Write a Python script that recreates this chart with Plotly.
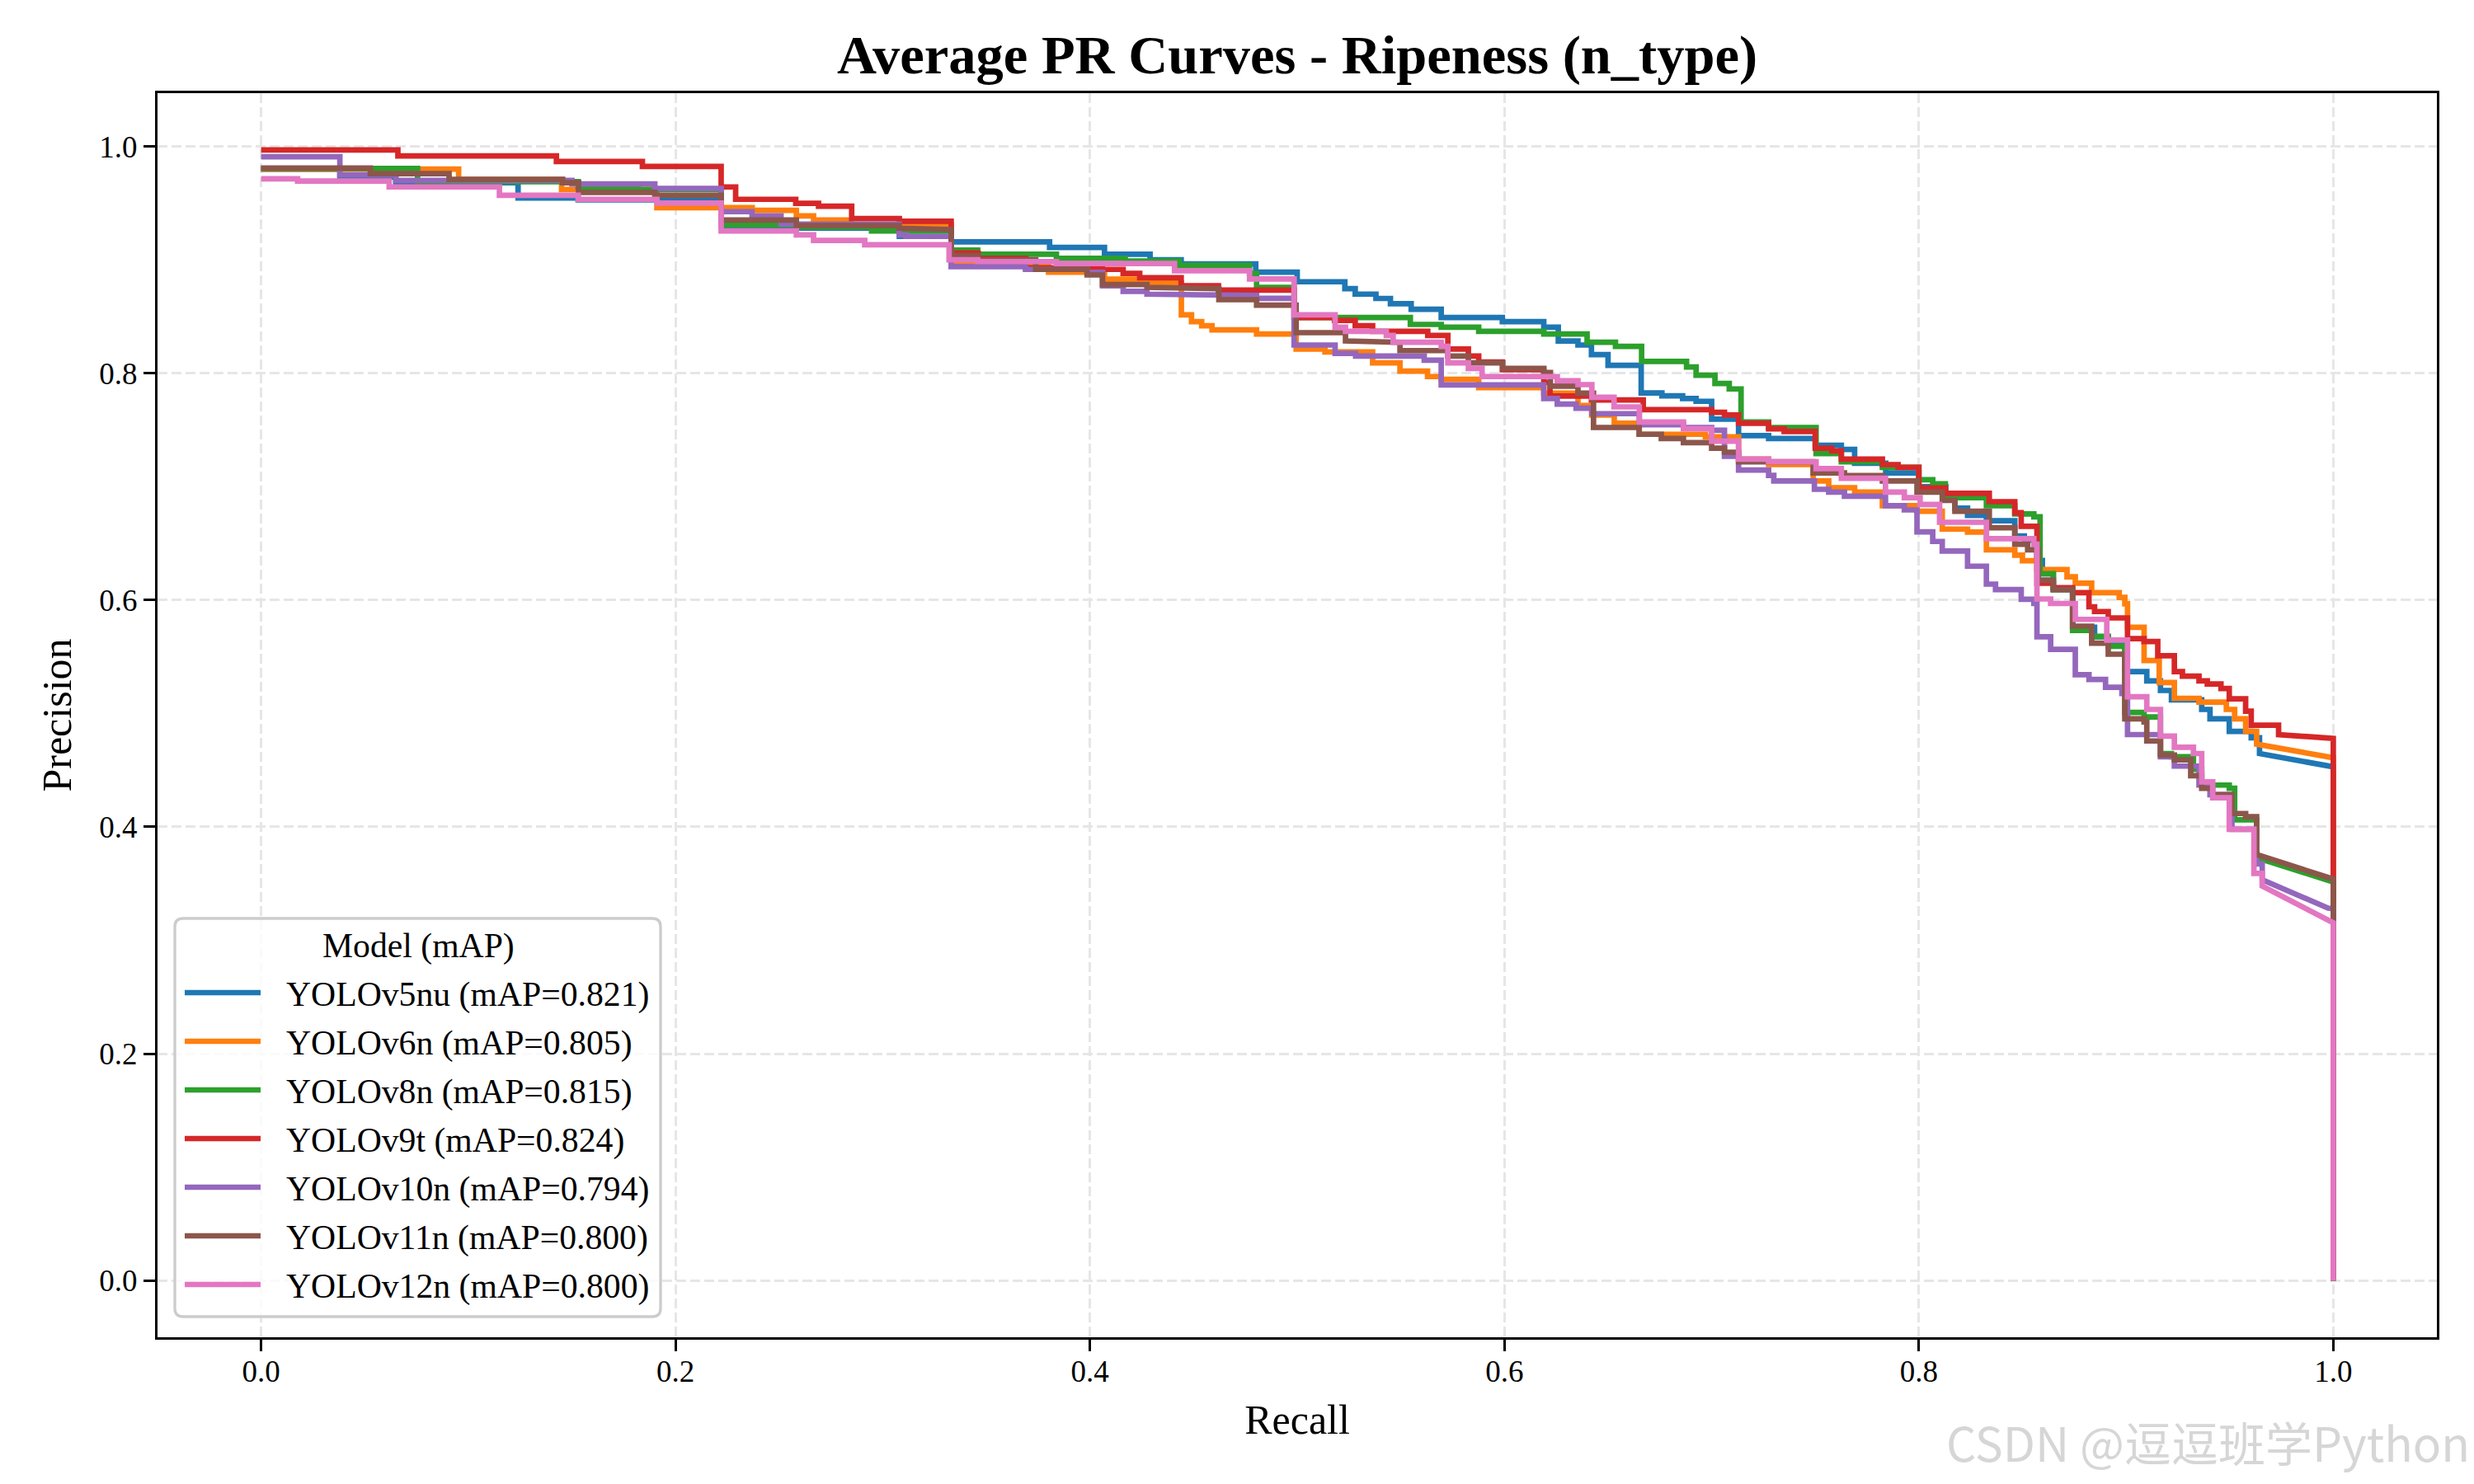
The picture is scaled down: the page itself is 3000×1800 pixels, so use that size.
import plotly.graph_objects as go

# ---------------- data ----------------
models = ["YOLOv5nu", "YOLOv6n", "YOLOv8n", "YOLOv9t", "YOLOv10n", "YOLOv11n", "YOLOv12n"]
map_values = [0.821, 0.805, 0.815, 0.824, 0.794, 0.800, 0.800]
colors = ["#1f77b4", "#ff7f0e", "#2ca02c", "#d62728", "#9467bd", "#8c564b", "#e377c2"]

# step breakpoints (recall) and precision level held on each step
v5nu_recall = [0, 0.038, 0.065, 0.124, 0.153, 0.222, 0.258, 0.308, 0.333, 0.3805, 0.407, 0.429, 0.444, 0.48, 0.50,
               0.523, 0.528, 0.538, 0.545, 0.555, 0.5695, 0.599, 0.619, 0.626, 0.6355, 0.642, 0.650, 0.666, 0.676,
               0.686, 0.6925, 0.70, 0.713, 0.7275, 0.75, 0.7626, 0.769, 0.784, 0.80, 0.813, 0.8174, 0.8235, 0.8326,
               0.8463, 0.8509, 0.8555, 0.857, 0.8596, 0.8649, 0.8742, 0.8848, 0.8914, 0.8994, 0.91, 0.9166, 0.9219,
               0.9365, 0.9405, 0.9498, 0.9604, 0.9644]
v5nu_precision = [0.98, 0.973, 0.968, 0.9546, 0.953, 0.930, 0.928, 0.9207, 0.9158, 0.911, 0.905, 0.900, 0.8964,
                  0.8892, 0.8807, 0.8746, 0.8698, 0.866, 0.8613, 0.8564, 0.8492, 0.8455, 0.8407, 0.8285, 0.8249,
                  0.8164, 0.807, 0.7826, 0.7801, 0.7777, 0.7753, 0.7596, 0.745, 0.7425, 0.7365, 0.7328, 0.7207,
                  0.7122, 0.700, 0.6929, 0.681, 0.6747, 0.670, 0.6565, 0.6529, 0.6493, 0.635, 0.6232, 0.6093, 0.576,
                  0.5676, 0.562, 0.537, 0.5287, 0.5203, 0.512, 0.5036, 0.4953, 0.4842, 0.4786]
v5nu_tail_r = [0.9644, 0.9975, 1.0, 1.0]
v5nu_tail_p = [0.4647, 0.4536, 0.453, 0.0]

v6n_recall = [0, 0.0953, 0.145, 0.191, 0.237, 0.2583, 0.2666, 0.2847, 0.333, 0.38, 0.407, 0.4275, 0.4441, 0.449,
              0.4539, 0.4589, 0.4804, 0.4995, 0.5134, 0.5364, 0.5496, 0.5629, 0.5695, 0.5876, 0.619, 0.6355, 0.6421,
              0.653, 0.6651, 0.697, 0.713, 0.7275, 0.749, 0.7565, 0.769, 0.7824, 0.799, 0.8113, 0.8235, 0.8326,
              0.8463, 0.85, 0.857, 0.8715, 0.8755, 0.8834, 0.8967, 0.8994, 0.9007, 0.9087, 0.916, 0.9233, 0.9352,
              0.9484, 0.9524, 0.9577, 0.963]
v6n_precision = [0.98, 0.971, 0.962, 0.946, 0.9437, 0.9388, 0.9352, 0.931, 0.897, 0.8892, 0.883, 0.8795, 0.8516,
                 0.8455, 0.8419, 0.8382, 0.8346, 0.8213, 0.8188, 0.8092, 0.8019, 0.7971, 0.7946, 0.7874, 0.7825,
                 0.7716, 0.7632, 0.7559, 0.7462, 0.744, 0.7243, 0.7195, 0.705, 0.699, 0.6953, 0.6832, 0.6783, 0.6626,
                 0.660, 0.6444, 0.6396, 0.6347, 0.627, 0.6205, 0.6149, 0.6066, 0.6024, 0.5968, 0.576, 0.5468, 0.5273,
                 0.5134, 0.51, 0.5036, 0.4953, 0.4842]
v6n_tail_r = [0.963, 0.9975, 1.0, 1.0]
v6n_tail_p = [0.473, 0.4619, 0.461, 0.0]

v8n_recall = [0, 0.0755, 0.153, 0.182, 0.222, 0.258, 0.2946, 0.333, 0.3458, 0.3838, 0.417, 0.443, 0.477, 0.4804,
              0.4985, 0.5546, 0.5695, 0.5876, 0.619, 0.6399, 0.6536, 0.6662, 0.6879, 0.6925, 0.7016, 0.7085, 0.7142,
              0.7275, 0.7504, 0.7626, 0.7824, 0.80, 0.8067, 0.8128, 0.8326, 0.8463, 0.8555, 0.8585, 0.8649, 0.8742,
              0.8834, 0.8914, 0.8994, 0.9087, 0.9166, 0.9219, 0.9325, 0.9365, 0.9498, 0.9524, 0.963]
v8n_precision = [0.9806, 0.969, 0.964, 0.962, 0.931, 0.929, 0.9255, 0.9086, 0.9049, 0.9013, 0.899, 0.8952, 0.888,
                 0.8758, 0.8492, 0.8431, 0.8407, 0.837, 0.8346, 0.8274, 0.8238, 0.8104, 0.8056, 0.7983, 0.791, 0.7862,
                 0.7571, 0.7522, 0.7292, 0.7219, 0.7171, 0.7062, 0.7025, 0.6904, 0.6832, 0.6759, 0.6735, 0.6232,
                 0.6093, 0.5732, 0.568, 0.5593, 0.5009, 0.497, 0.4647, 0.4619, 0.4508, 0.4369, 0.434, 0.4063]
v8n_tail_r = [0.963, 0.9975, 1.0, 1.0]
v8n_tail_p = [0.3729, 0.352, 0.3515, 0.0]

v9t_recall = [0, 0.066, 0.1425, 0.184, 0.222, 0.229, 0.258, 0.269, 0.285, 0.308, 0.333, 0.346, 0.369, 0.406, 0.416,
              0.424, 0.444, 0.462, 0.4985, 0.518, 0.528, 0.5364, 0.563, 0.5727, 0.5826, 0.5876, 0.599, 0.619, 0.622,
              0.642, 0.667, 0.70, 0.7062, 0.713, 0.7275, 0.735, 0.75, 0.758, 0.7626, 0.7824, 0.79, 0.80, 0.8128,
              0.834, 0.8463, 0.8494, 0.857, 0.8649, 0.8742, 0.8821, 0.8848, 0.8914, 0.9007, 0.9087, 0.9153, 0.9233,
              0.9272, 0.9352, 0.9392, 0.9458, 0.9498, 0.9577, 0.9604, 0.9736]
v9t_precision = [0.997, 0.9916, 0.9868, 0.9824, 0.9643, 0.9534, 0.9498, 0.9473, 0.9364, 0.934, 0.906, 0.9013, 0.893,
                 0.8916, 0.888, 0.8843, 0.8771, 0.8734, 0.8492, 0.8467, 0.8419, 0.837, 0.8334, 0.8213, 0.8152, 0.81,
                 0.8031, 0.792, 0.78, 0.7765, 0.768, 0.7656, 0.7632, 0.7559, 0.751, 0.7486, 0.734, 0.7316, 0.7243,
                 0.7195, 0.7171, 0.6989, 0.6941, 0.6868, 0.677, 0.665, 0.6149, 0.611, 0.6066, 0.5941, 0.5899, 0.5843,
                 0.566, 0.5635, 0.551, 0.537, 0.533, 0.5287, 0.526, 0.522, 0.513, 0.502, 0.4897]
v9t_tail_r = [0.9736, 0.9975, 1.0, 1.0]
v9t_tail_p = [0.4814, 0.479, 0.478, 0.0]

v10n_recall = [0, 0.038, 0.065, 0.15, 0.19, 0.222, 0.2369, 0.2509, 0.3079, 0.3112, 0.333, 0.3689, 0.3986, 0.4061,
               0.416, 0.4275, 0.4622, 0.4804, 0.4985, 0.5183, 0.5282, 0.5613, 0.5695, 0.619, 0.6255, 0.6346, 0.6422,
               0.6651, 0.6864, 0.70, 0.7062, 0.713, 0.7275, 0.73, 0.7496, 0.7565, 0.7641, 0.7839, 0.793, 0.7991,
               0.8067, 0.8113, 0.8235, 0.8326, 0.837, 0.8494, 0.8555, 0.857, 0.8636, 0.8755, 0.8821, 0.8901, 0.898,
               0.9007, 0.9166, 0.9233, 0.9352, 0.9405, 0.9511, 0.963, 0.9657]
v10n_precision = [0.991, 0.975, 0.970, 0.967, 0.963, 0.9425, 0.9388, 0.9316, 0.922, 0.9207, 0.894, 0.8916, 0.889,
                  0.8771, 0.8722, 0.8698, 0.8686, 0.8661, 0.8249, 0.8176, 0.8152, 0.8116, 0.7898, 0.7777, 0.7728,
                  0.7692, 0.7644, 0.7547, 0.7522, 0.7498, 0.7268, 0.7147, 0.71, 0.705, 0.6977, 0.6953, 0.6916,
                  0.6832, 0.6795, 0.6601, 0.6517, 0.6432, 0.6299, 0.6141, 0.6093, 0.6008, 0.597, 0.5676, 0.5565,
                  0.5342, 0.5301, 0.5231, 0.5176, 0.4814, 0.4619, 0.4536, 0.4369, 0.4285, 0.3979, 0.3673]
v10n_tail_r = [0.9657, 0.9975, 1.0, 1.0]
v10n_tail_p = [0.3534, 0.3284, 0.328, 0.0]

v11n_recall = [0, 0.0527, 0.0907, 0.1455, 0.1532, 0.19, 0.222, 0.2583, 0.3079, 0.3112, 0.333, 0.3458, 0.3738,
               0.3986, 0.406, 0.4275, 0.4408, 0.4622, 0.4804, 0.4995, 0.5233, 0.543, 0.5496, 0.5727, 0.5826, 0.5992,
               0.619, 0.6222, 0.6355, 0.643, 0.665, 0.6757, 0.6864, 0.70, 0.7062, 0.713, 0.749, 0.7641, 0.7824,
               0.7991, 0.8113, 0.8174, 0.834, 0.8463, 0.8525, 0.8576, 0.8649, 0.8742, 0.8834, 0.8914, 0.8994, 0.9087,
               0.91, 0.9166, 0.9233, 0.9312, 0.9365, 0.9418, 0.9511, 0.9577, 0.963]
v11n_precision = [0.981, 0.976, 0.971, 0.968, 0.9595, 0.957, 0.9352, 0.9303, 0.9279, 0.9267, 0.9037, 0.9001, 0.8916,
                  0.8867, 0.8783, 0.8758, 0.8746, 0.8649, 0.8601, 0.8358, 0.8285, 0.8273, 0.82, 0.8152, 0.8092,
                  0.8043, 0.8007, 0.7886, 0.7825, 0.7522, 0.7462, 0.7425, 0.7389, 0.734, 0.7304, 0.7219, 0.7122,
                  0.7098, 0.705, 0.6953, 0.688, 0.6783, 0.6638, 0.6493, 0.6444, 0.6177, 0.6093, 0.577, 0.562, 0.5523,
                  0.4953, 0.4925, 0.4758, 0.4633, 0.4591, 0.4452, 0.4341, 0.4285, 0.4118, 0.409]
v11n_tail_r = [0.963, 0.9975, 1.0, 1.0]
v11n_tail_p = [0.3757, 0.3548, 0.354, 0.0]

v12n_recall = [0, 0.0176, 0.0618, 0.115, 0.153, 0.191, 0.222, 0.2583, 0.2666, 0.2913, 0.332, 0.3458, 0.3838, 0.4408,
               0.477, 0.4985, 0.5183, 0.5233, 0.543, 0.5463, 0.5695, 0.5727, 0.5826, 0.5892, 0.6255, 0.6355, 0.6422,
               0.6529, 0.6651, 0.6864, 0.70, 0.713, 0.7275, 0.7504, 0.7626, 0.7839, 0.793, 0.8006, 0.81, 0.8326,
               0.8555, 0.857, 0.8636, 0.8755, 0.8907, 0.9007, 0.91, 0.9166, 0.9233, 0.9325, 0.9365, 0.9418, 0.9498,
               0.9617, 0.9657]
v12n_precision = [0.9715, 0.9695, 0.9643, 0.957, 0.9534, 0.950, 0.9255, 0.922, 0.9171, 0.9134, 0.9001, 0.8985,
                  0.8968, 0.8904, 0.8831, 0.8516, 0.8407, 0.837, 0.8334, 0.8273, 0.8237, 0.8092, 0.8043, 0.7971,
                  0.7934, 0.790, 0.7789, 0.7704, 0.7571, 0.751, 0.7401, 0.7243, 0.7219, 0.7159, 0.7074, 0.6953,
                  0.6904, 0.6844, 0.6686, 0.6541, 0.6493, 0.601, 0.597, 0.583, 0.5648, 0.5148, 0.5036, 0.48, 0.4703,
                  0.4647, 0.4397, 0.4257, 0.3979, 0.359]
v12n_tail_r = [0.9657, 0.999, 1.0, 1.0]
v12n_tail_p = [0.3479, 0.316, 0.3155, 0.0]

series = [
    (v5nu_recall, v5nu_precision, v5nu_tail_r, v5nu_tail_p),
    (v6n_recall, v6n_precision, v6n_tail_r, v6n_tail_p),
    (v8n_recall, v8n_precision, v8n_tail_r, v8n_tail_p),
    (v9t_recall, v9t_precision, v9t_tail_r, v9t_tail_p),
    (v10n_recall, v10n_precision, v10n_tail_r, v10n_tail_p),
    (v11n_recall, v11n_precision, v11n_tail_r, v11n_tail_p),
    (v12n_recall, v12n_precision, v12n_tail_r, v12n_tail_p),
]

# ---------------- figure ----------------
W, H = 3000, 1800
PL, PR, PT, PB = 191, 2955, 113, 1622   # plot area in pixels
FONT = "Liberation Serif"
LW = 6.7


def px_x(px):
    return (px - PL) / (PR - PL)


def px_y(py):
    return (PB - py) / (PB - PT)


fig = go.Figure()
for name, val, col, (R, P, tr, tp) in zip(models, map_values, colors, series):
    xs, ys = [], []
    for r0, r1, p in zip(R[:-1], R[1:], P):
        xs += [r0, r1]
        ys += [p, p]
    xs += tr
    ys += tp
    fig.add_trace(go.Scatter(x=xs, y=ys, mode="lines", name=f"{name} (mAP={val:.3f})",
                             line=dict(color=col, width=LW), showlegend=False))

axis_common = dict(
    showline=True, linecolor="black", linewidth=3.3, mirror=True,
    ticks="outside", ticklen=14, tickwidth=3.3, tickcolor="black",
    showgrid=True, gridcolor="#e6e6e6", gridwidth=3, griddash="12px,5px",
    zeroline=False, tickfont=dict(family=FONT, size=37, color="black"),
    tickvals=[0, 0.2, 0.4, 0.6, 0.8, 1.0], tickformat=".1f", automargin=False,
)

fig.update_layout(
    width=W, height=H,
    margin=dict(l=PL, r=W - PR, t=PT, b=H - PB, pad=0),
    paper_bgcolor="white", plot_bgcolor="white",
    font=dict(family=FONT, color="black"),
    title=dict(text="<b>Average PR Curves - Ripeness (n_type)</b>",
               font=dict(family=FONT, size=66.5, color="black"),
               x=0.5, xref="paper", xanchor="center",
               y=1 - 66 / H, yref="container", yanchor="middle"),
    xaxis=dict(range=[-0.05, 1.05], title=dict(text="Recall", font=dict(family=FONT, size=50), standoff=22),
               ticklabelstandoff=-8, **axis_common),
    yaxis=dict(range=[-0.05, 1.047], title=dict(text="Precision", font=dict(family=FONT, size=50), standoff=18),
               **axis_common),
    showlegend=False,
)

# ---------------- legend (matplotlib-style box, built from the model lists) ----------------
bx0, by0, bx1, by1, rad = 212, 1114, 801, 1597, 10
pts = [("M", bx0 + rad, by0), ("L", bx1 - rad, by0), ("Q", bx1, by0, bx1, by0 + rad),
       ("L", bx1, by1 - rad), ("Q", bx1, by1, bx1 - rad, by1), ("L", bx0 + rad, by1),
       ("Q", bx0, by1, bx0, by1 - rad), ("L", bx0, by0 + rad), ("Q", bx0, by0, bx0 + rad, by0)]
path = ""
for cmd in pts:
    c = cmd[0]
    coords = cmd[1:]
    seg = []
    for i in range(0, len(coords), 2):
        seg.append(f"{px_x(coords[i]):.5f},{px_y(coords[i + 1]):.5f}")
    path += c + " " + " ".join(seg) + " "
path += "Z"
fig.add_shape(type="path", path=path, xref="paper", yref="paper",
              line=dict(color="#cccccc", width=3.3), fillcolor="rgba(255,255,255,0.8)", layer="above")

fig.add_annotation(text="Model (mAP)", x=px_x(507), y=px_y(1147), xref="paper", yref="paper",
                   xanchor="center", yanchor="middle", showarrow=False,
                   font=dict(family=FONT, size=41.7, color="black"))

row0, row_step = 1204, 59
for i, (name, val, col) in enumerate(zip(models, map_values, colors)):
    yc = row0 + i * row_step
    fig.add_shape(type="line", xref="paper", yref="paper", x0=px_x(224), x1=px_x(316),
                  y0=px_y(yc), y1=px_y(yc), line=dict(color=col, width=LW), layer="above")
    fig.add_annotation(text=f"{name} (mAP={val:.3f})", x=px_x(345), y=px_y(yc + 2), xref="paper", yref="paper",
                       xanchor="left", yanchor="middle", showarrow=False,
                       font=dict(family=FONT, size=41.7, color="black"))

# watermark
fig.add_annotation(text="CSDN @逗逗班学Python", x=px_x(2997), y=px_y(1748), xref="paper", yref="paper",
                   xanchor="right", yanchor="middle", showarrow=False,
                   font=dict(family="Noto Sans CJK SC", size=57, color="#d6d6d6"))

fig.write_html("out.html", config={"displayModeBar": False},
               post_script="document.body.style.margin='0';document.body.style.overflow='hidden';")
